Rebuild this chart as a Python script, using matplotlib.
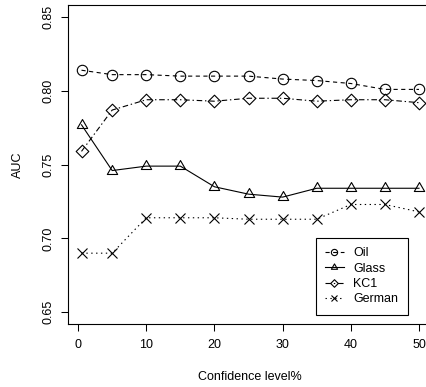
#!/usr/bin/env python3
"""AUC versus confidence level for four datasets (R base-graphics look)."""

import matplotlib
matplotlib.use("Agg")
import matplotlib.pyplot as plt
from matplotlib.path import Path

# data
confidence = [0.5, 5, 10, 15, 20, 25, 30, 35, 40, 45, 50]
auc_oil = [0.814, 0.811, 0.811, 0.810, 0.810, 0.810, 0.808, 0.807, 0.805, 0.801, 0.801]
auc_glass = [0.777, 0.746, 0.749, 0.749, 0.735, 0.730, 0.728, 0.734, 0.734, 0.734, 0.734]
auc_kc1 = [0.759, 0.787, 0.794, 0.794, 0.793, 0.795, 0.795, 0.793, 0.794, 0.794, 0.792]
auc_german = [0.690, 0.690, 0.714, 0.714, 0.714, 0.713, 0.713, 0.713, 0.723, 0.723, 0.718]

x_ticks = [0, 10, 20, 30, 40, 50]
y_ticks = [0.65, 0.70, 0.75, 0.80, 0.85]

plt.rcParams["font.family"] = ["Liberation Sans", "DejaVu Sans"]
plt.rcParams["font.size"] = 9
plt.rcParams["lines.scale_dashes"] = False

# R-style markers: triangle centred on its centroid, diamond as tall as wide
tri_marker = Path([(0, 1.555), (1.347, -0.778), (-1.347, -0.778), (0, 1.555)],
                  [Path.MOVETO, Path.LINETO, Path.LINETO, Path.CLOSEPOLY])
dia_marker = Path([(0, 1), (1, 0), (0, -1), (-1, 0), (0, 1)],
                  [Path.MOVETO, Path.LINETO, Path.LINETO, Path.LINETO, Path.CLOSEPOLY])

fig = plt.figure(figsize=(4.26, 3.87), dpi=100)
ax = fig.add_axes([68 / 426, 1 - 324 / 387, 364.5 / 426, 318.7 / 387])

common = dict(color="black", lw=0.8, markerfacecolor="none",
              markeredgecolor="black", markeredgewidth=0.8)

ax.plot(confidence, auc_oil, marker="o", markersize=7.5,
        dashes=(3, 2.5), label="Oil", **common)
ax.plot(confidence, auc_glass, marker=tri_marker, markersize=8.6,
        linestyle="-", label="Glass", **common)
ax.plot(confidence, auc_kc1, marker=dia_marker, markersize=9.1,
        dashes=(4, 2, 1, 2), label="KC1", **common)
ax.plot(confidence, auc_german, marker="x", markersize=7.5,
        dashes=(1, 2.5), label="German", **common)

ax.set_xlim(-1.48, 51.98)
ax.set_ylim(0.642, 0.858)
ax.set_xticks(x_ticks)
ax.set_yticks(y_ticks)
ax.set_yticklabels([f"{v:.2f}" for v in y_ticks])
ax.tick_params(direction="out", length=5, width=0.75, colors="black")
ax.tick_params(axis="x", pad=6)
ax.tick_params(axis="y", pad=4.5, labelrotation=90)
plt.setp(ax.get_yticklabels(), va="center")

for sp in ax.spines.values():
    sp.set_linewidth(0.8)
    sp.set_color("black")

ax.set_xlabel("Confidence level%")
ax.xaxis.label.set_va("center")
ax.xaxis.set_label_coords(0.5, (324 - 377) / 318.7)
ax.set_ylabel("AUC")
ax.yaxis.label.set_va("center")
ax.yaxis.set_label_coords((17.7 - 68) / 364.5, 0.5)

leg = ax.legend(loc="upper left", bbox_to_anchor=((316 - 68) / 364.5, (324 - 238) / 318.7),
                borderaxespad=0, borderpad=0.75, handlelength=1.45, handletextpad=0.8,
                labelspacing=0.27, markerscale=0.6, fancybox=False, framealpha=1,
                edgecolor="black")
leg.get_frame().set_linewidth(0.8)

fig.savefig("out.png", dpi=100)
